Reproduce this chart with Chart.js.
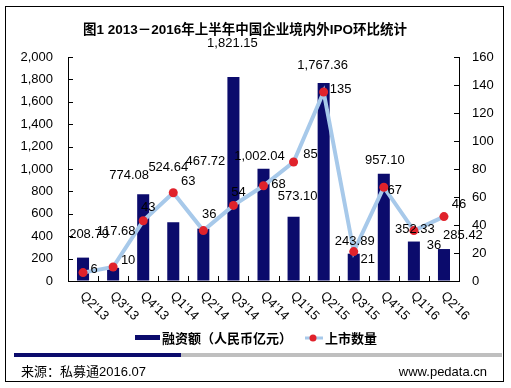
<!DOCTYPE html>
<html>
<head>
<meta charset="utf-8">
<script src="https://cdn.jsdelivr.net/npm/chart.js@4.4.1/dist/chart.umd.min.js"></script>
<style>
  html, body { margin: 0; padding: 0; background: #fff; }
  #wrap { width: 511px; height: 388px; }
</style>
</head>
<body>
<div id="wrap"><canvas id="ipoChart" width="511" height="388"></canvas></div>
<script>
// data
var quarters = ["Q2'13", "Q3'13", "Q4'13", "Q1'14", "Q2'14", "Q3'14", "Q4'14",
                "Q1'15", "Q2'15", "Q3'15", "Q4'15", "Q1'16", "Q2'16"];
var funding = [208.79, 117.68, 774.08, 524.64, 467.72, 1821.15, 1002.04,
               573.10, 1767.36, 243.89, 957.10, 352.33, 285.42];
var ipoCount = [6, 10, 43, 63, 36, 54, 68, 85, 135, 21, 67, 36, 46];

// label nudges (dx, dy) like the hand-placed labels in the original
var barLabelShift = [[6, -23], [3, -36], [-14, -19], [-5, -55], [2, -67], [-1, -34], [-4, -12],
                     [4, -20], [-1, -18], [1, -12], [1, -13], [1, -12], [19, -14]];
var lineLabelShift = [[11, -3], [15, -7], [5, -13], [15, -11], [6, -16], [5, -13], [15, -1],
                      [17, -8], [17, -3], [14, 8], [11, 3], [20, 15], [15, -12]];

var NAVY = '#0b0b6c';
var LINE_BLUE = '#a7c9ea';
var DOT_RED = '#e0222b';
var FONT = '"Liberation Sans", Arial, "Noto Sans CJK SC", sans-serif';

function fmt(v) {
    return v.toLocaleString('en-US', { minimumFractionDigits: 2, maximumFractionDigits: 2 });
}

// extra drawing: frame, title, inner ticks, rotated x labels, data labels, legend, footer
var decorPlugin = {
    id: 'decor',
    afterDraw: function (chart) {
        var ctx = chart.ctx;
        var area = chart.chartArea;
        var x = chart.scales.x, y = chart.scales.y, y1 = chart.scales.y1;
        ctx.save();

        // outer frame
        ctx.strokeStyle = '#000';
        ctx.lineWidth = 1;
        ctx.strokeRect(5.5, 6.5, 498, 375);

        // title
        ctx.fillStyle = '#000';
        ctx.font = 'bold 13.5px ' + FONT;
        ctx.textAlign = 'center';
        ctx.textBaseline = 'middle';
        ctx.fillText('图1 2013－2016年上半年中国企业境内外IPO环比统计', 245, 30);

        // inner tick marks
        ctx.beginPath();
        y.ticks.forEach(function (t) {
            var py = Math.round(y.getPixelForValue(t.value)) + 0.5;
            ctx.moveTo(area.left, py); ctx.lineTo(area.left + 5, py);
        });
        y1.ticks.forEach(function (t) {
            var py = Math.round(y1.getPixelForValue(t.value)) + 0.5;
            ctx.moveTo(area.right, py); ctx.lineTo(area.right - 5, py);
        });
        var step = (area.right - area.left) / quarters.length;
        for (var i = 1; i < quarters.length; i++) {
            var px = Math.round(area.left + step * i) + 0.5;
            ctx.moveTo(px, area.bottom); ctx.lineTo(px, area.bottom - 5);
        }
        ctx.stroke();

        // x labels, rotated clockwise
        ctx.font = '13px ' + FONT;
        ctx.textAlign = 'left';
        ctx.textBaseline = 'middle';
        quarters.forEach(function (q, i) {
            var cx = x.getPixelForValue(i);
            ctx.save();
            ctx.translate(cx - 1, area.bottom + 13);
            ctx.rotate(Math.PI / 4);
            ctx.fillText(q, 0, 0);
            ctx.restore();
        });

        // data labels
        ctx.textAlign = 'center';
        var barMeta = chart.getDatasetMeta(0);
        var lineMeta = chart.getDatasetMeta(1);
        barMeta.data.forEach(function (bar, i) {
            ctx.fillText(fmt(funding[i]), bar.x + barLabelShift[i][0], bar.y + barLabelShift[i][1]);
        });
        lineMeta.data.forEach(function (pt, i) {
            ctx.fillText(String(ipoCount[i]), pt.x + lineLabelShift[i][0], pt.y + lineLabelShift[i][1]);
        });

        // legend
        ctx.fillStyle = NAVY;
        ctx.fillRect(135, 335, 25, 5);
        ctx.fillStyle = '#000';
        ctx.font = 'bold 13px ' + FONT;
        ctx.textAlign = 'left';
        ctx.fillText('融资额（人民币亿元）', 162, 339);
        ctx.strokeStyle = LINE_BLUE;
        ctx.lineWidth = 3;
        ctx.beginPath();
        ctx.moveTo(305, 338); ctx.lineTo(323, 338);
        ctx.stroke();
        ctx.fillStyle = DOT_RED;
        ctx.beginPath();
        ctx.arc(313, 338, 3.5, 0, Math.PI * 2);
        ctx.fill();
        ctx.fillStyle = '#000';
        ctx.fillText('上市数量', 325, 339);

        // footer band and text
        ctx.fillStyle = NAVY;
        ctx.fillRect(14, 353, 167, 4);
        ctx.fillStyle = '#bfbfbf';
        ctx.fillRect(181, 353, 321, 4);
        ctx.fillStyle = '#000';
        ctx.font = '13px ' + FONT;
        ctx.fillText('来源：私募通2016.07', 21, 372);
        ctx.textAlign = 'right';
        ctx.fillText('www.pedata.cn', 487, 372);

        ctx.restore();
    }
};

var ctx = document.getElementById('ipoChart').getContext('2d');
new Chart(ctx, {
    data: {
        labels: quarters,
        datasets: [
            {
                type: 'bar',
                label: '融资额（人民币亿元）',
                data: funding,
                backgroundColor: NAVY,
                barPercentage: 0.4,
                categoryPercentage: 1,
                yAxisID: 'y',
                order: 2
            },
            {
                type: 'line',
                label: '上市数量',
                data: ipoCount,
                borderColor: LINE_BLUE,
                borderWidth: 4,
                tension: 0,
                pointRadius: 4.5,
                pointBackgroundColor: DOT_RED,
                pointBorderWidth: 0,
                yAxisID: 'y1',
                order: 1
            }
        ]
    },
    options: {
        responsive: false,
        animation: false,
        devicePixelRatio: 1,
        layout: { padding: { top: 57, left: 0, right: 0, bottom: 0 } },
        plugins: {
            legend: { display: false },
            title: { display: false },
            tooltip: { enabled: false }
        },
        scales: {
            x: {
                grid: { display: false, drawTicks: false },
                border: { display: true, color: '#000', width: 1 },
                ticks: { display: false },
                afterFit: function (s) { s.height = 107; }
            },
            y: {
                position: 'left',
                min: 0,
                max: 2000,
                ticks: {
                    stepSize: 200,
                    padding: 15,
                    color: '#000',
                    font: { family: FONT, size: 13 },
                    callback: function (v) { return v.toLocaleString('en-US'); }
                },
                grid: { drawOnChartArea: false, drawTicks: false },
                border: { display: true, color: '#000', width: 1 },
                afterFit: function (s) { s.width = 68; }
            },
            y1: {
                position: 'right',
                min: 0,
                max: 160,
                ticks: {
                    stepSize: 20,
                    padding: 13,
                    color: '#000',
                    font: { family: FONT, size: 13 }
                },
                grid: { drawOnChartArea: false, drawTicks: false },
                border: { display: true, color: '#000', width: 1 },
                afterFit: function (s) { s.width = 52; }
            }
        }
    },
    plugins: [decorPlugin]
});
</script>
</body>
</html>
